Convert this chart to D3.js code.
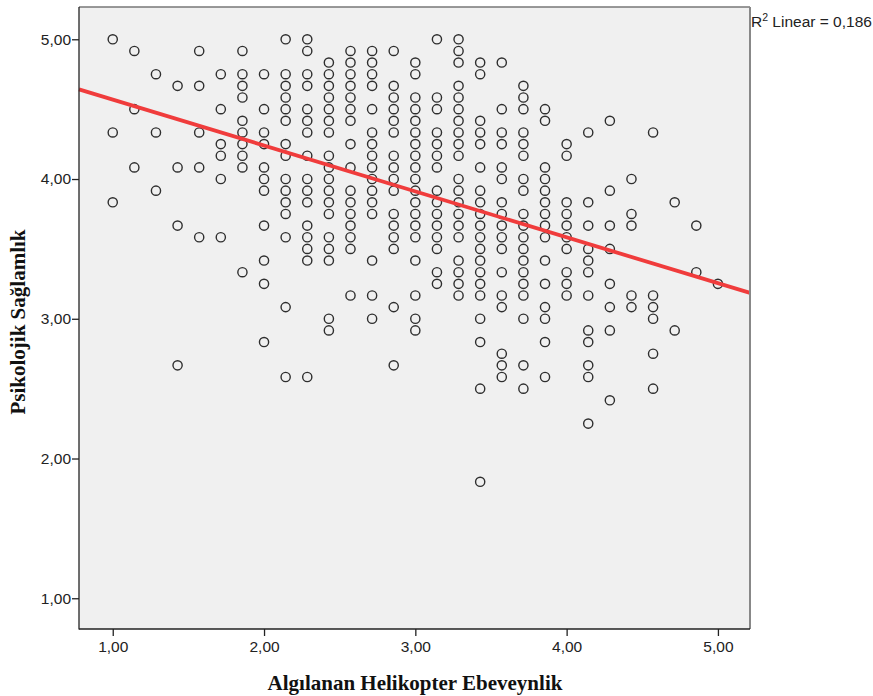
<!DOCTYPE html>
<html>
<head>
<meta charset="utf-8">
<script src="https://cdn.jsdelivr.net/npm/d3@7"></script>
<style>
  body { margin: 0; background: #fff; }
  svg { display: block; }
  .tick-label { font-family: "Liberation Sans", Arial, sans-serif; font-size: 15.5px; fill: #222; }
  .axis-title { font-family: "Liberation Serif", "Times New Roman", serif; font-size: 21px; font-weight: bold; fill: #111; }
</style>
</head>
<body>
<div id="chart"></div>
<script>
// x levels (Algılanan Helikopter Ebeveynlik) come in steps of 1/7
const xLevels = [1, 8/7, 9/7, 10/7, 11/7, 12/7, 13/7, 2, 15/7, 16/7, 17/7, 18/7, 19/7, 20/7, 3,
  22/7, 23/7, 24/7, 25/7, 26/7, 27/7, 4, 29/7, 30/7, 31/7, 32/7, 33/7, 34/7, 5];

// y values per x level, in twelfths (Psikolojik Sağlamlık = v / 12)
const yTwelfths = [
  [60, 52, 46],
  [59, 54, 49],
  [57, 52, 47],
  [56, 49, 44, 32],
  [59, 56, 52, 49, 43],
  [57, 54, 51, 50, 48, 43],
  [59, 57, 56, 55, 53, 52, 51, 50, 49, 40],
  [57, 54, 52, 51, 49, 48, 47, 44, 41, 39, 34],
  [60, 57, 56, 55, 54, 53, 51, 50, 48, 47, 46, 45, 43, 37, 31],
  [60, 59, 57, 56, 54, 53, 52, 50, 48, 47, 46, 44, 43, 42, 41, 31],
  [58, 57, 56, 55, 54, 53, 52, 50, 49, 48, 47, 46, 45, 43, 42, 41, 36, 35],
  [59, 58, 57, 56, 55, 54, 53, 51, 49, 47, 46, 45, 44, 43, 42, 38],
  [59, 58, 57, 56, 54, 52, 51, 50, 49, 48, 47, 46, 45, 41, 38, 36],
  [59, 56, 55, 54, 53, 52, 50, 49, 48, 47, 45, 44, 43, 42, 37, 32],
  [58, 57, 55, 54, 53, 52, 51, 50, 49, 48, 47, 46, 45, 44, 43, 41, 38, 36, 35],
  [60, 55, 54, 52, 51, 50, 49, 47, 46, 45, 44, 43, 42, 40, 39],
  [60, 59, 58, 56, 55, 54, 53, 52, 51, 50, 48, 47, 46, 45, 44, 43, 41, 40, 39, 38],
  [58, 57, 53, 52, 51, 49, 47, 46, 45, 44, 43, 42, 41, 40, 39, 38, 36, 34, 30, 22],
  [58, 54, 52, 51, 49, 48, 46, 45, 44, 43, 42, 40, 38, 37, 33, 32, 31],
  [56, 55, 54, 52, 51, 50, 48, 47, 45, 44, 43, 42, 41, 40, 39, 38, 36, 32, 30],
  [54, 53, 49, 48, 47, 46, 45, 44, 43, 41, 39, 37, 36, 34, 31],
  [51, 50, 46, 45, 44, 43, 42, 40, 39, 38],
  [52, 46, 44, 42, 41, 40, 38, 35, 34, 32, 31, 27],
  [53, 47, 44, 42, 39, 37, 35, 29],
  [48, 45, 44, 38, 37],
  [52, 38, 37, 36, 33, 30],
  [46, 35],
  [44, 40],
  [39]
];

const yTicks = [1, 2, 3, 4, 5];
const xTicks = [1, 2, 3, 4, 5];
const fitIntercept = 4.897;
const fitSlope = -0.3285;
const rSquared = "0,186";

const points = [];
xLevels.forEach((xv, i) => {
    yTwelfths[i].forEach(t => points.push({ x: xv, y: t / 12 }));
});

const width = 873, height = 696;
const frame = { left: 79, right: 750, top: 7, bottom: 629 };

const svg = d3.select("#chart").append("svg")
    .attr("width", width)
    .attr("height", height);

const xScale = d3.scaleLinear().domain([0.777, 5.212]).range([frame.left, frame.right]);
const yScale = d3.scaleLinear().domain([0.78, 5.231]).range([frame.bottom, frame.top]);

const fmt = v => d3.format(".2f")(v).replace(".", ",");

// plot background
svg.append("rect")
    .attr("x", frame.left)
    .attr("y", frame.top)
    .attr("width", frame.right - frame.left)
    .attr("height", frame.bottom - frame.top)
    .attr("fill", "#f0f0f0");

// points
svg.append("g").selectAll("circle")
    .data(points)
    .enter()
    .append("circle")
    .attr("cx", d => xScale(d.x))
    .attr("cy", d => yScale(d.y))
    .attr("r", 4.6)
    .attr("fill", "none")
    .attr("stroke", "#2e2e2e")
    .attr("stroke-width", 1.4);

// fit line
const xDom = xScale.domain();
svg.append("line")
    .attr("x1", xScale(xDom[0]))
    .attr("y1", yScale(fitIntercept + fitSlope * xDom[0]))
    .attr("x2", xScale(xDom[1]))
    .attr("y2", yScale(fitIntercept + fitSlope * xDom[1]))
    .attr("stroke", "#f03c3c")
    .attr("stroke-width", 3.8);

// frame
svg.append("line").attr("x1", frame.left).attr("x2", frame.right).attr("y1", frame.top).attr("y2", frame.top)
    .attr("stroke", "#777").attr("stroke-width", 1.5);
svg.append("line").attr("x1", frame.right).attr("x2", frame.right).attr("y1", frame.top).attr("y2", frame.bottom)
    .attr("stroke", "#888").attr("stroke-width", 2);
svg.append("line").attr("x1", frame.left).attr("x2", frame.left).attr("y1", frame.top).attr("y2", frame.bottom + 0.5)
    .attr("stroke", "#222").attr("stroke-width", 1.3);
svg.append("line").attr("x1", frame.left).attr("x2", frame.right).attr("y1", frame.bottom).attr("y2", frame.bottom)
    .attr("stroke", "#222").attr("stroke-width", 1.3);

// y axis
const yAxis = svg.append("g")
    .attr("transform", `translate(${frame.left},0)`)
    .call(d3.axisLeft(yScale).tickValues(yTicks).tickFormat(fmt).tickSize(7).tickPadding(1));
yAxis.select(".domain").remove();
yAxis.selectAll(".tick line").attr("stroke", "#222").attr("stroke-width", 1.3);
yAxis.selectAll(".tick text").attr("class", "tick-label").attr("fill", null);

// x axis
const xAxis = svg.append("g")
    .attr("transform", `translate(0,${frame.bottom})`)
    .call(d3.axisBottom(xScale).tickValues(xTicks).tickFormat(fmt).tickSize(7).tickPadding(5));
xAxis.select(".domain").remove();
xAxis.selectAll(".tick line").attr("stroke", "#222").attr("stroke-width", 1.3);
xAxis.selectAll(".tick text").attr("class", "tick-label").attr("fill", null);

// axis titles
svg.append("text")
    .attr("class", "axis-title")
    .attr("x", 415)
    .attr("y", 690)
    .attr("text-anchor", "middle")
    .text("Algılanan Helikopter Ebeveynlik");

svg.append("text")
    .attr("class", "axis-title")
    .attr("transform", "rotate(-90)")
    .attr("x", -322)
    .attr("y", 25)
    .attr("text-anchor", "middle")
    .text("Psikolojik Sağlamlık");

// R squared label
const rLabel = svg.append("text")
    .attr("class", "tick-label")
    .attr("x", 751)
    .attr("y", 27);
rLabel.append("tspan").text("R");
rLabel.append("tspan").attr("dy", -6).attr("font-size", "10.5px").text("2");
rLabel.append("tspan").attr("dy", 6).text(" Linear = " + rSquared);
</script>
</body>
</html>
